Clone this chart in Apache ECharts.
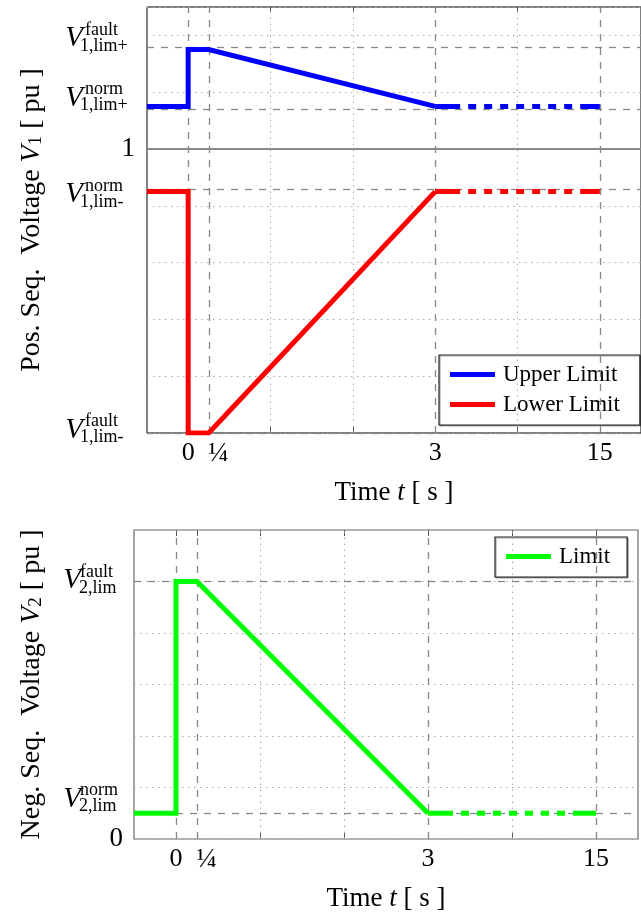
<!DOCTYPE html>
<html><head><meta charset="utf-8">
<script src="https://cdn.jsdelivr.net/npm/echarts@6/dist/echarts.min.js"></script>
<style>html,body{margin:0;padding:0;background:#fff}#c{width:641px;height:914px}</style>
</head><body><div id="c"></div>
<script>
// ---------- data ----------
const timeTickPos = [0, 0.25, 3, 5];          // axis coordinates of the labelled instants
const timeTickLabels = ['0', '\u00BC', '3', '15'];
const minorTimePos = [1, 2, 4];
const allTimeTicks = [0, 0.25, 1, 2, 3, 4, 5];

const upperX = [-0.5, 0, 0, 0.25, 3];
const upperY = [1.075, 1.075, 1.175, 1.175, 1.075];
const upperTailX = [3, 5];
const upperTailY = [1.075, 1.075];

const lowerX = [-0.5, 0, 0, 0.25, 3];
const lowerY = [0.925, 0.925, 0.5, 0.5, 0.925];
const lowerTailX = [3, 5];
const lowerTailY = [0.925, 0.925];

const negX = [-0.5, 0, 0, 0.25, 3];
const negY = [0.05, 0.05, 0.5, 0.5, 0.05];
const negTailX = [3, 5];
const negTailY = [0.05, 0.05];

const posLevels = [1.175, 1.075, 0.925, 0.5];
const posLevelSup = ['fault', 'norm', 'norm', 'fault'];
const posLevelSub = ['1,lim+', '1,lim+', '1,lim-', '1,lim-'];
const posUnity = [1];
const negLevels = [0.5, 0.05];
const negLevelSup = ['fault', 'norm'];
const negLevelSub = ['2,lim', '2,lim'];
const negZero = [0];

// ---------- styling ----------
const FONT = '"Liberation Serif", "Times New Roman", serif';
const zip = (xs, ys) => xs.map((x, i) => [x, ys[i]]);
const DASH = [7, 7];
const DOT = [1.5, 4.5];
const TAIL = [25, 8, 8, 8, 8, 8, 8, 8, 8, 8, 8, 8, 8, 8, 8, 8, 23, 200];
const GUIDE = '#888888';

function guideSeries(xi, yi, hLevels, solidLevels) {
  const data = [];
  minorTimePos.forEach(v => data.push({ xAxis: v, lineStyle: { type: DOT, color: '#a8a8a8', width: 1 } }));
  timeTickPos.forEach(v => data.push({ xAxis: v, lineStyle: { type: DASH, color: GUIDE, width: 1.3 } }));
  hLevels.forEach(v => data.push({ yAxis: v, lineStyle: { type: DASH, color: GUIDE, width: 1.3 } }));
  solidLevels.forEach(v => data.push({ yAxis: v, lineStyle: { type: 'solid', color: '#8a8a8a', width: 2.2 } }));
  return {
    type: 'line', name: 'guides' + xi, xAxisIndex: xi, yAxisIndex: yi, data: [], z: 1,
    silent: true, animation: false,
    markLine: { silent: true, animation: false, symbol: ['none', 'none'], label: { show: false }, data: data }
  };
}

function lineSeries(name, xi, yi, xs, ys, color, dash) {
  return {
    type: 'line', name: name, xAxisIndex: xi, yAxisIndex: yi, data: zip(xs, ys),
    showSymbol: false, symbol: 'none', color: color, z: 5, animation: false,
    itemStyle: { color: color },
    lineStyle: { color: color, width: 5, type: dash || 'solid', join: 'miter', cap: 'butt' }
  };
}

function xAxisCfg(grid, pos, showLabel) {
  return {
    type: 'value', gridIndex: grid, min: -0.5, max: 5.5, position: pos,
    axisLine: { show: false },
    splitLine: { show: false },
    axisTick: { show: true, inside: true, length: 6, customValues: allTimeTicks, lineStyle: { color: '#555', width: 1 } },
    axisLabel: {
      show: showLabel, customValues: timeTickPos, margin: 7,
      fontFamily: FONT, fontSize: 26, color: '#000',
      rich: { q: { fontFamily: FONT, fontSize: 27, color: '#000', padding: [0, 0, 0, 19] } },
      formatter: v => {
        const i = timeTickPos.findIndex(t => Math.abs(t - v) < 1e-9);
        if (i < 0) return '';
        return timeTickLabels[i] === '\u00BC' ? '{q|' + timeTickLabels[i] + '}' : timeTickLabels[i];
      }
    },
    name: showLabel ? 'Time {i|t} [ s ]' : '', nameLocation: 'middle', nameGap: 46,
    nameTextStyle: { fontFamily: FONT, fontSize: 27, color: '#000', rich: { i: { fontFamily: FONT, fontSize: 27, fontStyle: 'italic', color: '#000' } } }
  };
}

const chart = echarts.init(document.getElementById('c'), null, { renderer: 'canvas' });

const yName = (n) => ({
  fontFamily: FONT, fontSize: 28, color: '#000',
  rich: { i: { fontFamily: FONT, fontSize: 28, fontStyle: 'italic', color: '#000' },
          s: { fontFamily: FONT, fontSize: 19, color: '#000', padding: [9, 0, 0, 0] } }
});

const option = {
  backgroundColor: '#fff',
  animation: false,
  grid: [
    { left: 147, top: 7, width: 503, height: 426, show: true, borderColor: '#000', borderWidth: 1, backgroundColor: 'transparent' },
    { left: 134, top: 530, width: 504, height: 309, show: true, borderColor: '#6a6a6a', borderWidth: 1.2, backgroundColor: 'transparent' }
  ],
  xAxis: [
    xAxisCfg(0, 'bottom', true), xAxisCfg(0, 'top', false),
    xAxisCfg(1, 'bottom', true), xAxisCfg(1, 'top', false)
  ],
  yAxis: [
    {
      type: 'value', gridIndex: 0, min: 0.5, max: 1.25, interval: 0.1,
      axisLine: { show: false }, axisTick: { show: false },
      splitLine: { show: true, lineStyle: { type: DOT, color: '#a8a8a8', width: 1 } },
      axisLabel: { customValues: posUnity, margin: 12, fontFamily: FONT, fontSize: 27, color: '#000' },
      name: 'Pos. Seq.  Voltage {i|V}{s|1} [ pu ]', nameLocation: 'middle', nameRotate: 90, nameGap: 101,
      nameTextStyle: yName()
    },
    {
      type: 'value', gridIndex: 1, min: 0, max: 0.6, interval: 0.1,
      axisLine: { show: false }, axisTick: { show: false },
      splitLine: { show: true, lineStyle: { type: DOT, color: '#a8a8a8', width: 1 } },
      axisLabel: { customValues: negZero, margin: 11, fontFamily: FONT, fontSize: 27, color: '#000', formatter: v => String(v) },
      name: 'Neg. Seq.  Voltage {i|V}{s|2} [ pu ]', nameLocation: 'middle', nameRotate: 90, nameGap: 88,
      nameTextStyle: yName()
    }
  ],
  legend: [
    {
      data: ['Upper Limit', 'Lower Limit'], orient: 'vertical', left: 439, top: 355,
      padding: [8, 20, 9, 11], itemGap: 7, itemWidth: 45, itemHeight: 5, icon: 'rect',
      borderColor: '#222', borderWidth: 1.2, backgroundColor: '#fff',
      shadowColor: 'rgba(0,0,0,0.35)', shadowOffsetX: 1, shadowOffsetY: 1, shadowBlur: 0,
      textStyle: { fontFamily: FONT, fontSize: 23, color: '#000', padding: [0, 0, 0, 3] },
      selectedMode: false
    },
    {
      data: ['Limit'], orient: 'vertical', left: 495, top: 537,
      padding: [8, 17, 9, 11], itemGap: 7, itemWidth: 45, itemHeight: 5, icon: 'rect',
      borderColor: '#222', borderWidth: 1.2, backgroundColor: '#fff',
      shadowColor: 'rgba(0,0,0,0.35)', shadowOffsetX: 1, shadowOffsetY: 1, shadowBlur: 0,
      textStyle: { fontFamily: FONT, fontSize: 23, color: '#000', padding: [0, 0, 0, 3] },
      selectedMode: false
    }
  ],
  series: [
    guideSeries(0, 0, posLevels, posUnity),
    guideSeries(2, 1, negLevels, []),
    lineSeries('Upper Limit', 0, 0, upperX, upperY, '#0000ff'),
    lineSeries('Upper tail', 0, 0, upperTailX, upperTailY, '#0000ff', TAIL),
    lineSeries('Lower Limit', 0, 0, lowerX, lowerY, '#ff0000'),
    lineSeries('Lower tail', 0, 0, lowerTailX, lowerTailY, '#ff0000', TAIL),
    lineSeries('Limit', 2, 1, negX, negY, '#00ff00'),
    lineSeries('Limit tail', 2, 1, negTailX, negTailY, '#00ff00', TAIL)
  ]
};
chart.setOption(option);

// ---------- level labels (V with super/subscripts), placed through the y scales ----------
const posOffsets = [-11, -8.5, 3, -3];
const negOffsets = [-1, -14];
function levelLabels(yAxisIndex, levels, sups, subs, offsets, xV, xSup, xSub) {
  const els = [];
  levels.forEach((v, i) => {
    const yt = chart.convertToPixel({ yAxisIndex: yAxisIndex }, v);
    const ym = yt + offsets[i];
    els.push({ type: 'text', x: xV, y: ym, z: 10, silent: true,
      style: { text: 'V', font: 'italic 29px ' + FONT, fill: '#000', align: 'right', textAlign: 'right', verticalAlign: 'middle', textVerticalAlign: 'middle' } });
    els.push({ type: 'text', x: xSup, y: ym - 8.5, z: 10, silent: true,
      style: { text: sups[i], font: '18px ' + FONT, fill: '#000', align: 'left', textAlign: 'left', verticalAlign: 'middle', textVerticalAlign: 'middle' } });
    els.push({ type: 'text', x: xSub, y: ym + 7.5, z: 10, silent: true,
      style: { text: subs[i], font: '18px ' + FONT, fill: '#000', align: 'left', textAlign: 'left', verticalAlign: 'middle', textVerticalAlign: 'middle' } });
  });
  return els;
}
const graphics = []
  .concat(levelLabels(0, posLevels, posLevelSup, posLevelSub, posOffsets, 83, 85, 80))
  .concat(levelLabels(1, negLevels, negLevelSup, negLevelSub, negOffsets, 81, 80, 79));
chart.setOption({ graphic: graphics });
</script>
</body></html>
